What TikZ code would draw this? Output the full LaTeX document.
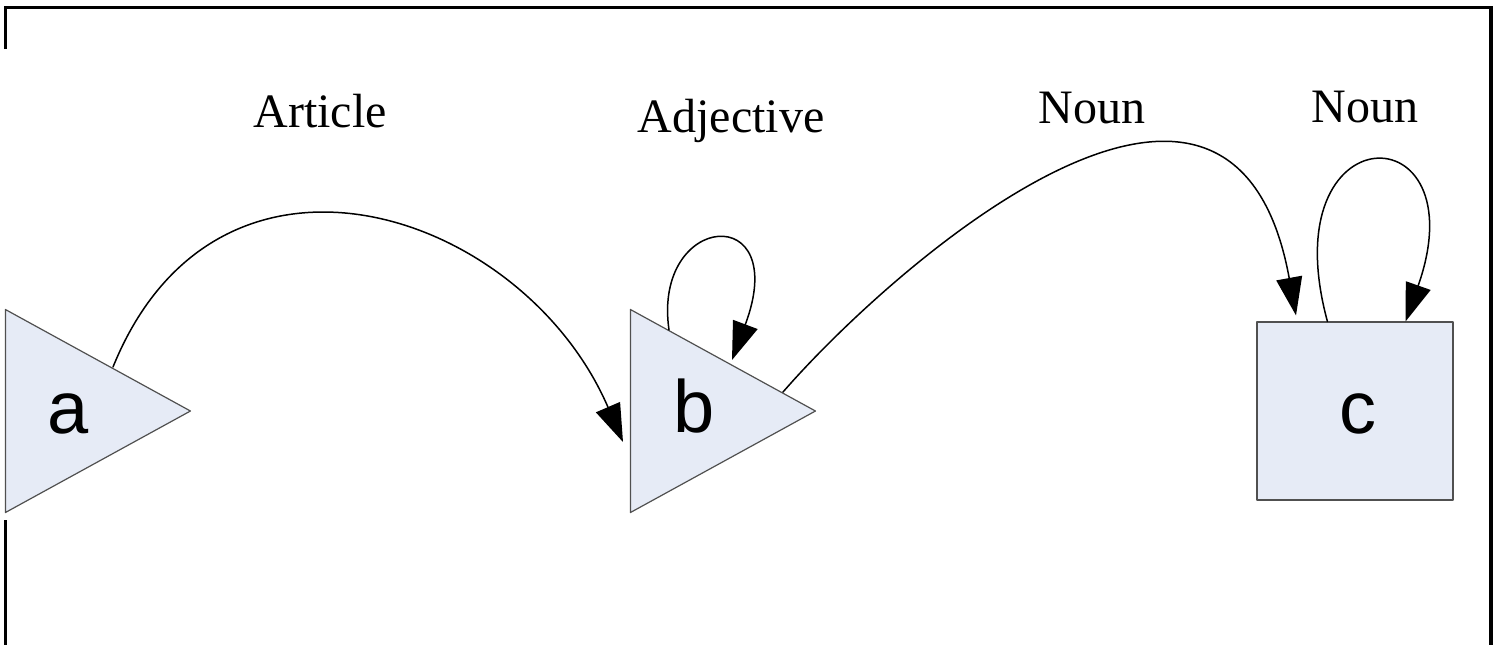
\documentclass[tikz,border=0pt]{standalone}
\usepackage{fontspec}
\setmainfont{Liberation Serif}
\newfontfamily\letterfont{Liberation Sans}
\usetikzlibrary{calc,arrows.meta,shapes.geometric,positioning}
\definecolor{StateFill}{HTML}{E6EBF6}
\definecolor{StateLine}{HTML}{505050}

\begin{document}
\begin{tikzpicture}[x=0.5pt,y=-0.5pt,line cap=round,line join=round,
  state/.style={draw=StateLine,fill=StateFill,line width=0.6pt,inner sep=0pt},
  tri/.style={state,isosceles triangle,isosceles triangle stretches,
    minimum width=101.5pt,minimum height=92.5pt},
  letter/.style={anchor=base,inner sep=0pt,font=\letterfont\fontsize{37}{40}\selectfont},
  tag/.style={anchor=base,inner sep=0pt,font=\fontsize{24}{28}\selectfont},
  trans/.style={line width=0.75pt,-{Triangle[length=19pt,width=13pt]}}]
  \useasboundingbox (0,0) rectangle (1498,645);

  % frame
  \draw[line width=1.8pt,line cap=butt,line join=miter] (5.5,49) -- (5.5,7.5) -- (1491,7.5) -- (1491,645);
  \draw[line width=1.8pt,line cap=butt] (5.5,520) -- (5.5,645);

  % states
  \node[tri,anchor=apex] (a) at (192,411) {};
  \node[tri,anchor=apex] (b) at (817,411) {};
  \node[state,minimum width=98pt,minimum height=89pt] (c) at (1355,411) {};
  \node[letter] (a-txt) at (68.5,433) {a};
  \node[letter] (b-txt) at (694.5,432) {b};
  \node[letter] (c-txt) at (1357.5,433) {c};

  % transitions
  \draw[trans] ($(a.apex)+(-79,-44)$) .. controls (218,108) and (523,210) .. ($(b.apex)+(-194,31)$);
  \draw[trans] ($(b.apex)+(-148,-81)$) .. controls (652,212) and (792,200) .. ($(b.apex)+(-85,-51)$);
  \draw[trans] ($(b.apex)+(-34,-19)$) .. controls (889,270) and (1232,-35) .. ($(c.north)+(-59,-6)$);
  \draw[trans] ($(c.north west)+(71,0)$) .. controls (1270,110) and (1480,110) .. ($(c.north east)+(-48,0)$);

  \node[tag] (art) at (320,127) {Article};
  \node[tag] (adj) at (731,132) {Adjective};
  \node[tag] (noun-bc) at (1092,123) {Noun};
  \node[tag] (noun-cc) at (1365,122) {Noun};
\end{tikzpicture}
\end{document}
